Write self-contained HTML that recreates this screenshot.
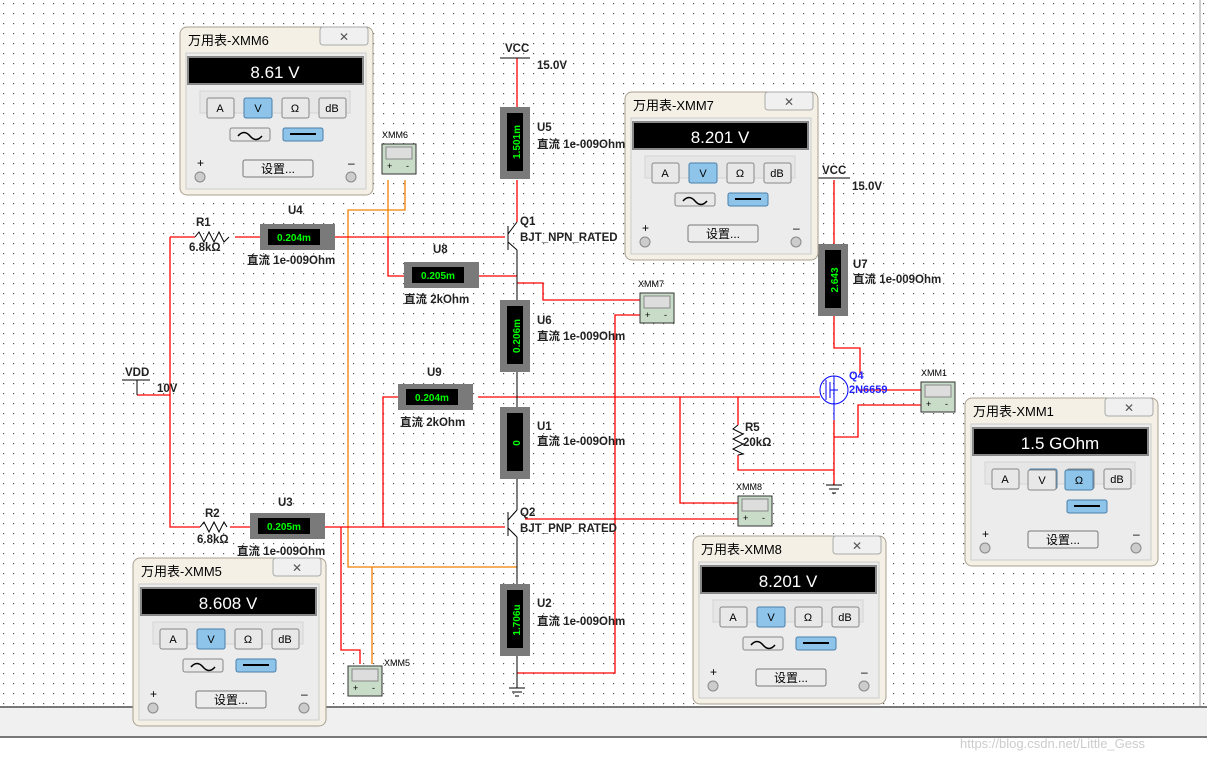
<!DOCTYPE html>
<html><head><meta charset="utf-8"><style>
html,body{margin:0;padding:0;background:#fff;}
svg{display:block;font-family:"Liberation Sans","Noto Sans CJK SC",sans-serif;}
.l{font-size:11.5px;font-weight:bold;fill:#222;}
</style></head><body>
<svg width="1207" height="759" viewBox="0 0 1207 759" xmlns="http://www.w3.org/2000/svg">
<defs>
<pattern id="g" x="3" y="3" width="10" height="10" patternUnits="userSpaceOnUse"><rect width="1.2" height="1.2" fill="#555"/></pattern>
<g id="m">
 <rect x="0" y="0" width="193" height="168" rx="7" fill="#f4f0e6" stroke="#a8a090"/>
 <rect x="140" y="0" width="48" height="18" rx="3" fill="#f0f0f0" stroke="#aaa"/>
 <text x="164" y="14" font-size="12" text-anchor="middle" fill="#555">✕</text>
 <rect x="6" y="26" width="180" height="136" fill="#ececec" stroke="#ccc"/>
 <rect x="8" y="30" width="175" height="27" fill="#000" stroke="#888" stroke-width="2"/>
 <rect x="20" y="64" width="150" height="22" fill="#e6e6e6" stroke="#d4d4d4"/>
 <rect x="27" y="71" width="27" height="20" rx="2" fill="#e8e8e8" stroke="#888"/><text x="40" y="85" font-size="11" text-anchor="middle">A</text>
 <rect x="64" y="71" width="28" height="20" rx="2" fill="#8ec4ea" stroke="#4a7fa8"/><text x="78" y="85" font-size="11" text-anchor="middle">V</text>
 <rect x="102" y="71" width="27" height="20" rx="2" fill="#e8e8e8" stroke="#888"/><text x="115" y="85" font-size="11" text-anchor="middle">Ω</text>
 <rect x="139" y="71" width="27" height="20" rx="2" fill="#e8e8e8" stroke="#888"/><text x="152" y="85" font-size="11" text-anchor="middle">dB</text>
 <rect x="50" y="101" width="40" height="13" rx="2" fill="#e8e8e8" stroke="#888"/><path d="M58 109 q6 -7 12 0 t12 0" fill="none" stroke="#000" stroke-width="1.5"/>
 <rect x="103" y="101" width="40" height="13" rx="2" fill="#8ec4ea" stroke="#4a7fa8"/><line x1="110" y1="107" x2="136" y2="107" stroke="#000" stroke-width="2"/>
 <rect x="63" y="133" width="70" height="17" rx="2" fill="#ececec" stroke="#777"/><text x="98" y="146" font-size="12" text-anchor="middle">设置...</text>
 <text x="17" y="140" font-size="12">+</text><text x="168" y="140" font-size="12">–</text>
 <circle cx="20" cy="150" r="5" fill="#ccc" stroke="#888"/><circle cx="171" cy="150" r="5" fill="#ccc" stroke="#888"/>
</g>
<g id="dmm"><rect x="0" y="0" width="34" height="30" fill="#c8dcc8" stroke="#333"/><rect x="4" y="3" width="26" height="12" fill="#ddd" stroke="#888"/><text x="5" y="25" font-size="9">+</text><text x="24" y="25" font-size="9">-</text></g>
<g id="avv"><rect x="0" y="0" width="30" height="72" fill="#7a7a7a"/><rect x="7" y="6" width="16" height="58" fill="#000"/></g>
<g id="avh"><rect x="0" y="0" width="75" height="26" fill="#7a7a7a"/><rect x="8" y="5" width="52" height="16" fill="#000"/></g>
</defs>
<rect width="1207" height="706" fill="url(#g)"/>
<line x1="1200" y1="0" x2="1200" y2="706" stroke="#999"/>
<rect x="0" y="706" width="1207" height="32" fill="#f0f0f0"/>
<line x1="0" y1="707" x2="1207" y2="707" stroke="#777" stroke-width="2"/>
<line x1="0" y1="737" x2="1207" y2="737" stroke="#777" stroke-width="2"/>
<text x="960" y="748" font-size="13" fill="#ccc">https://blog.csdn.net/Little_Gess</text>

<g stroke="#f08000" fill="none" stroke-width="1.3">
<path d="M388 180 V237"/><path d="M405 180 V210 H348 V567 H517"/><path d="M372 567 V664"/>
</g>
<g stroke="#f00" fill="none" stroke-width="1.3">
<path d="M517 58 V108"/><path d="M517 180 V222"/><path d="M170 237 H195"/><path d="M235 237 H260"/><path d="M335 237 H505"/>
<path d="M170 237 V527 H200"/><path d="M137 395 H170"/><path d="M230 527 H250"/><path d="M325 527 H505"/>
<path d="M388 237 V276 H404"/><path d="M479 276 H517"/><path d="M517 283 H543 V300 H640"/>
<path d="M478 397 H820"/><path d="M398 397 H383 V527"/><path d="M341 527 V650 H360 V664"/>
<path d="M680 397 V503 H738"/><path d="M738 397 V425"/><path d="M738 455 V470 H834"/>
<path d="M525 519 H738"/><path d="M517 673 H615 V315 H660"/>
<path d="M834 180 V244"/><path d="M834 316 V348 H860 V375"/><path d="M858 390 H921"/><path d="M834 437 H858 V405 H921"/><path d="M834 420 V485"/>
</g>
<g stroke="#000" fill="none" stroke-width="1">
<path d="M517 372 V407"/><path d="M517 479 V510"/><path d="M517 537 V584"/><path d="M517 656 V688"/><path d="M517 250 V300"/>
<path d="M500 58 H530"/><path d="M122 380 H150 M137 380 V395"/><path d="M818 178 H850"/>
<path d="M509 688 H525 M512 692 H522 M515 696 H519"/><path d="M826 485 H842 M829 489 H839 M832 493 H836"/>
<path d="M195 237 l4 -5 l5 10 l5 -10 l5 10 l5 -10 l5 10 l5 -5" /><path d="M200 527 l4 -5 l5 10 l5 -10 l5 10 l5 -10 l3 5"/>
<path d="M738 425 l-5 4 l10 5 l-10 5 l10 5 l-10 5 l10 5 l-5 1"/>
<path d="M508 226 V250 M508 234 L517 222 M508 242 L517 250"/><path d="M508 512 V536 M508 520 L517 510 M508 528 L517 537"/>
</g>
<circle cx="834" cy="390" r="14" fill="none" stroke="#00f"/>
<path d="M826 380 V400 M830 382 V398 M830 390 H838 M834 376 V420" stroke="#00f" fill="none"/>
<text x="849" y="379" font-size="11" font-weight="bold" fill="#22f">Q4</text><text x="849" y="393" font-size="11" font-weight="bold" fill="#22f">2N6659</text>

<use href="#avv" x="500" y="107"/><text transform="translate(520,142) rotate(-90)" font-size="10" font-weight="bold" fill="#0f0" text-anchor="middle">1.501m</text>
<use href="#avv" x="500" y="300"/><text transform="translate(520,336) rotate(-90)" font-size="10" font-weight="bold" fill="#0f0" text-anchor="middle">0.206m</text>
<use href="#avv" x="500" y="407"/><text transform="translate(520,443) rotate(-90)" font-size="10" font-weight="bold" fill="#0f0" text-anchor="middle">0</text>
<use href="#avv" x="500" y="584"/><text transform="translate(520,620) rotate(-90)" font-size="10" font-weight="bold" fill="#0f0" text-anchor="middle">1.706u</text>
<use href="#avv" x="818" y="244"/><text transform="translate(838,280) rotate(-90)" font-size="10" font-weight="bold" fill="#0f0" text-anchor="middle">2.643</text>
<use href="#avh" x="260" y="224"/><text x="294" y="241" font-size="10" font-weight="bold" fill="#0f0" text-anchor="middle">0.204m</text>
<use href="#avh" x="404" y="262"/><text x="438" y="279" font-size="10" font-weight="bold" fill="#0f0" text-anchor="middle">0.205m</text>
<use href="#avh" x="398" y="384"/><text x="432" y="401" font-size="10" font-weight="bold" fill="#0f0" text-anchor="middle">0.204m</text>
<use href="#avh" x="250" y="513"/><text x="284" y="530" font-size="10" font-weight="bold" fill="#0f0" text-anchor="middle">0.205m</text>

<use href="#dmm" x="382" y="144"/><text x="382" y="138" font-size="9">XMM6</text>
<use href="#dmm" x="640" y="293"/><text x="638" y="287" font-size="9">XMM7</text>
<use href="#dmm" x="921" y="382"/><text x="921" y="376" font-size="9">XMM1</text>
<use href="#dmm" x="738" y="496"/><text x="736" y="490" font-size="9">XMM8</text>
<use href="#dmm" x="348" y="666"/><text x="384" y="666" font-size="9">XMM5</text>

<g class="l">
<text x="505" y="52">VCC</text><text x="537" y="69">15.0V</text>
<text x="537" y="131">U5</text><text x="537" y="324">U6</text><text x="537" y="430">U1</text><text x="537" y="607">U2</text>
<text x="520" y="225">Q1</text><text x="520" y="241">BJT_NPN_RATED</text>
<text x="520" y="516">Q2</text><text x="520" y="532">BJT_PNP_RATED</text>
<text x="196" y="226">R1</text><text x="189" y="251">6.8kΩ</text><text x="288" y="214">U4</text>
<text x="433" y="253">U8</text><text x="427" y="376">U9</text>
<text x="125" y="376">VDD</text><text x="157" y="392">10V</text>
<text x="205" y="517">R2</text><text x="197" y="543">6.8kΩ</text><text x="278" y="506">U3</text>
<text x="822" y="174">VCC</text><text x="852" y="190">15.0V</text><text x="853" y="268">U7</text>
<text x="745" y="431">R5</text><text x="743" y="446">20kΩ</text>
<text x="537" y="148">直流  1e-009Ohm</text><text x="537" y="340">直流  1e-009Ohm</text><text x="537" y="445">直流  1e-009Ohm</text><text x="537" y="625">直流  1e-009Ohm</text>
<text x="247" y="264">直流  1e-009Ohm</text><text x="404" y="303">直流  2kOhm</text><text x="400" y="426">直流  2kOhm</text>
<text x="237" y="555">直流  1e-009Ohm</text><text x="853" y="283">直流  1e-009Ohm</text>
</g>

<use href="#m" x="180" y="27"/><text x="188" y="45" font-size="13">万用表-XMM6</text><text x="275" y="78" font-size="17" fill="#fff" text-anchor="middle">8.61 V</text>
<use href="#m" x="625" y="92"/><text x="633" y="110" font-size="13">万用表-XMM7</text><text x="720" y="143" font-size="17" fill="#fff" text-anchor="middle">8.201 V</text>
<use href="#m" x="693" y="536"/><text x="701" y="554" font-size="13">万用表-XMM8</text><text x="788" y="587" font-size="17" fill="#fff" text-anchor="middle">8.201 V</text>
<use href="#m" x="133" y="558"/><text x="141" y="576" font-size="13">万用表-XMM5</text><text x="228" y="609" font-size="17" fill="#fff" text-anchor="middle">8.608 V</text>
<use href="#m" x="965" y="398"/><text x="973" y="416" font-size="13">万用表-XMM1</text><text x="1060" y="449" font-size="17" fill="#fff" text-anchor="middle">1.5 GOhm</text>
<rect x="1065" y="470" width="28" height="20" rx="2" fill="#8ec4ea" stroke="#4a7fa8"/><text x="1079" y="484" font-size="11" text-anchor="middle">Ω</text>
<rect x="1028" y="470" width="28" height="20" rx="2" fill="#e8e8e8" stroke="#888"/><text x="1042" y="484" font-size="11" text-anchor="middle">V</text>
<rect x="1006" y="497" width="110" height="22" fill="#ececec"/><rect x="1067" y="500" width="40" height="13" rx="2" fill="#8ec4ea" stroke="#4a7fa8"/><line x1="1074" y1="506" x2="1100" y2="506" stroke="#000" stroke-width="2"/>
</svg>
</body></html>
